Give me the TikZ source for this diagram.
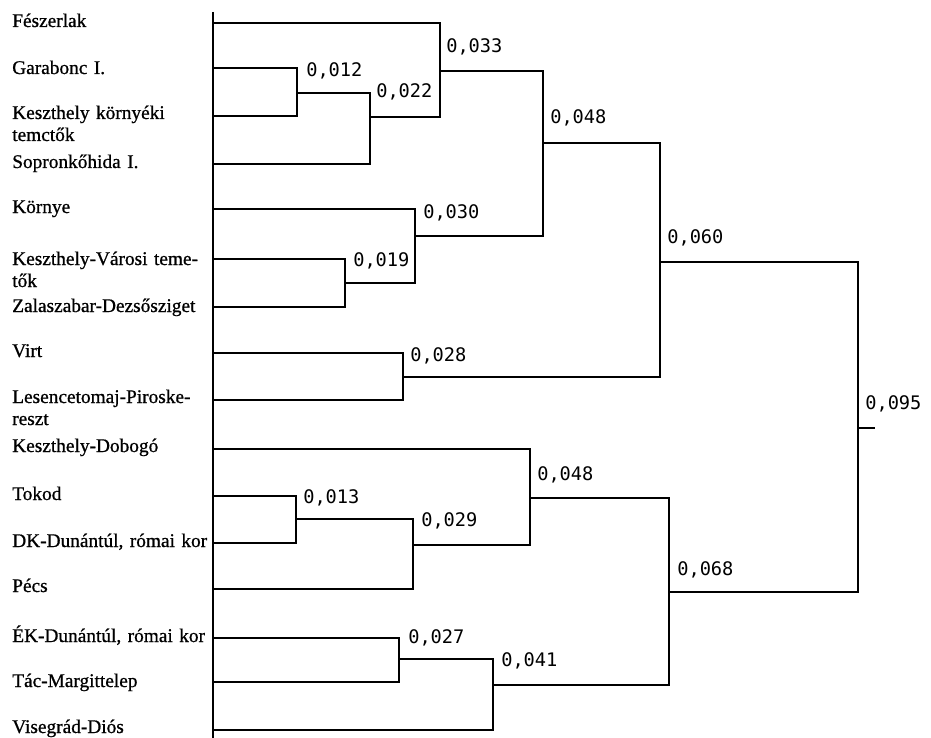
\documentclass[tikz,border=0pt]{standalone}
\usepackage{fontspec}
\setmainfont{Liberation Serif}[FakeBold=0.8]
\setmonofont{DejaVu Sans Mono}
\usetikzlibrary{positioning}

\begin{document}
\begin{tikzpicture}[
      x=0.75pt, y=-0.75pt,
      site/.style={anchor=base west, inner sep=0pt, align=left, text width=6cm, font=\fontsize{14.5}{16.5}\selectfont},
      dist/.style={anchor=base west, inner sep=0pt, font=\fontsize{14}{16}\ttfamily},
      branch/.style={line width=1.4pt}
  ]
  \useasboundingbox (0,0) rectangle (931,738);

  % Site names
  \node[site] (feszerlak) at (12,27) {Fészerlak};
  \node[site] (garabonc) at (12,74) {Garabonc I.};
  \node[site] (kkornyeki) at (12,119) {Keszthely környéki\\temctők};
  \node[site] (sopron) at (12,168) {Sopronkőhida I.};
  \node[site] (kornye) at (12,213) {Környe};
  \node[site] (kvarosi) at (12,265) {Keszthely-Városi teme-\\tők};
  \node[site] (zalasz) at (12,312) {Zalaszabar-Dezsősziget};
  \node[site] (virt) at (12,357) {Virt};
  \node[site] (lesence) at (12,403) {Lesencetomaj-Piroske-\\reszt};
  \node[site] (kdobogo) at (12,452) {Keszthely-Dobogó};
  \node[site] (tokod) at (12,500) {Tokod};
  \node[site] (dkdun) at (12,547) {DK-Dunántúl, római kor};
  \node[site] (pecs) at (12,592) {Pécs};
  \node[site] (ekdun) at (12,642) {ÉK-Dunántúl, római kor};
  \node[site] (tac) at (12,687) {Tác-Margittelep};
  \node[site] (visegrad) at (12,733) {Visegrád-Diós};

  % Axis and leaf ends
  \coordinate (top) at (213,12);
  \coordinate (bottom) at (213,738);
  \draw[branch] (top) -- (bottom);
  \coordinate (l1) at (213,23);
  \coordinate (l2) at (213,68);
  \coordinate (l3) at (213,116);
  \coordinate (l4) at (213,164);
  \coordinate (l5) at (213,209);
  \coordinate (l6) at (213,259);
  \coordinate (l7) at (213,307);
  \coordinate (l8) at (213,353);
  \coordinate (l9) at (213,400);
  \coordinate (l10) at (213,449);
  \coordinate (l11) at (213,496);
  \coordinate (l12) at (213,543);
  \coordinate (l13) at (213,589);
  \coordinate (l14) at (213,638);
  \coordinate (l15) at (213,682);
  \coordinate (l16) at (213,730);

  % Junctions
  \coordinate (m012) at (297,93);
  \coordinate (m022) at (370,117);
  \coordinate (m033) at (440,71);
  \coordinate (m019) at (345,283);
  \coordinate (m030) at (415,236);
  \coordinate (m048a) at (543,143);
  \coordinate (m028) at (403,377);
  \coordinate (m060) at (660,262);
  \coordinate (m013) at (296,519);
  \coordinate (m029) at (413,545);
  \coordinate (m048b) at (530,498);
  \coordinate (m027) at (399,659);
  \coordinate (m041) at (493,685);
  \coordinate (m068) at (669,592);
  \coordinate (m095) at (858,428);
  \coordinate (root) at (875,428);

  % Upper cluster
  \draw[branch] (l2) -| (m012);
  \draw[branch] (l3) -| (m012);
  \draw[branch] (m012) -| (m022);
  \draw[branch] (l4) -| (m022);
  \draw[branch] (l1) -| (m033);
  \draw[branch] (m022) -| (m033);
  \draw[branch] (l6) -| (m019);
  \draw[branch] (l7) -| (m019);
  \draw[branch] (l5) -| (m030);
  \draw[branch] (m019) -| (m030);
  \draw[branch] (m033) -| (m048a);
  \draw[branch] (m030) -| (m048a);
  \draw[branch] (l8) -| (m028);
  \draw[branch] (l9) -| (m028);
  \draw[branch] (m048a) -| (m060);
  \draw[branch] (m028) -| (m060);

  % Lower cluster
  \draw[branch] (l11) -| (m013);
  \draw[branch] (l12) -| (m013);
  \draw[branch] (m013) -| (m029);
  \draw[branch] (l13) -| (m029);
  \draw[branch] (l10) -| (m048b);
  \draw[branch] (m029) -| (m048b);
  \draw[branch] (l14) -| (m027);
  \draw[branch] (l15) -| (m027);
  \draw[branch] (m027) -| (m041);
  \draw[branch] (l16) -| (m041);
  \draw[branch] (m048b) -| (m068);
  \draw[branch] (m041) -| (m068);

  % Root
  \draw[branch] (m060) -| (m095);
  \draw[branch] (m068) -| (m095);
  \draw[branch] (m095) -- (root);

  % Distances
  \node[dist] (d012) at (306,77) {0,012};
  \node[dist] (d022) at (376,98) {0,022};
  \node[dist] (d033) at (446,53) {0,033};
  \node[dist] (d019) at (353,266) {0,019};
  \node[dist] (d030) at (423,219) {0,030};
  \node[dist] (d048a) at (550,124) {0,048};
  \node[dist] (d028) at (410,361) {0,028};
  \node[dist] (d060) at (667,243) {0,060};
  \node[dist] (d013) at (303,503) {0,013};
  \node[dist] (d029) at (421,526) {0,029};
  \node[dist] (d048b) at (537,480) {0,048};
  \node[dist] (d027) at (408,643) {0,027};
  \node[dist] (d041) at (501,666) {0,041};
  \node[dist] (d068) at (677,575) {0,068};
  \node[dist] (d095) at (865,409) {0,095};

  \end{tikzpicture}
\end{document}
